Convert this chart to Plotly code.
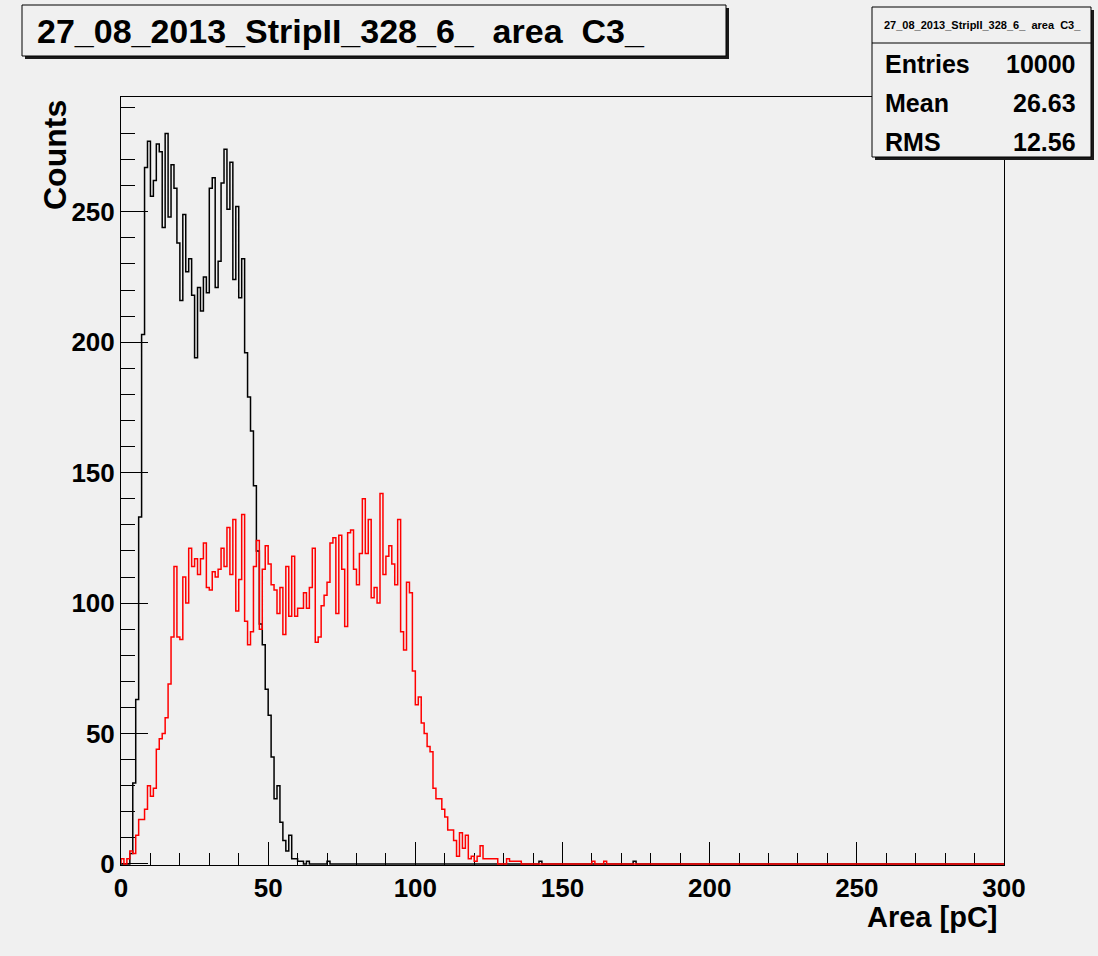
import numpy as np
import plotly.graph_objects as go

# ---------------------------------------------------------------- data
title_text = "27_08_2013_StripII_328_6_  area  C3_"
n_bins = 300
x_min, x_max = 0.0, 300.0

# black histogram, bins 0..70 (1 pC per bin) + isolated entries further out
black_counts_head = [
    0, 0, 0, 4, 31, 63, 133, 203, 267, 277,
    256, 262, 276, 273, 244, 280, 248, 268, 259, 238,
    216, 249, 227, 232, 218, 194, 221, 212, 225, 219,
    259, 263, 221, 231, 261, 274, 251, 269, 224, 252,
    217, 232, 196, 179, 166, 145, 120, 92, 84, 67,
    57, 41, 25, 30, 16, 9, 5, 11, 2, 2,
    1, 1, 0, 1, 0, 0, 0, 0, 0, 0,
    1,
]
black_sparse = {142: 1, 174: 1}

# red histogram, bins 0..135 + isolated entries further out
red_counts_head = [
    2, 0, 2, 5, 4, 11, 17, 17, 21, 30,
    26, 29, 44, 48, 50, 56, 69, 87, 114, 87,
    86, 110, 100, 121, 114, 117, 111, 117, 123, 106,
    105, 112, 110, 113, 121, 114, 129, 111, 132, 97,
    109, 134, 93, 84, 89, 114, 124, 90, 113, 122,
    115, 107, 105, 96, 106, 88, 114, 95, 118, 95,
    98, 98, 104, 98, 106, 121, 85, 87, 99, 103,
    108, 123, 125, 96, 126, 113, 91, 127, 128, 113,
    107, 119, 140, 119, 132, 102, 106, 100, 142, 111,
    118, 122, 115, 107, 132, 89, 82, 108, 104, 74,
    61, 64, 54, 50, 45, 43, 29, 25, 25, 21,
    18, 13, 13, 9, 3, 12, 6, 11, 2, 3,
    1, 3, 7, 2, 2, 2, 2, 2, 0, 0,
    0, 2, 1, 1, 1, 1,
]
red_sparse = {160: 1, 164: 1}

stats_labels = ["Entries", "Mean", "RMS"]
stats_values = ["10000", "26.63", "12.56"]

x_tick_vals = [0, 50, 100, 150, 200, 250, 300]
y_tick_vals = [0, 50, 100, 150, 200, 250]
y_max = 294.0


def full_counts(head, sparse):
    c = np.zeros(n_bins)
    c[:len(head)] = head
    for k, v in sparse.items():
        c[k] = v
    return c


def step_xy(counts):
    edges = np.linspace(x_min, x_max, n_bins + 1)
    xs = np.concatenate([[x_min], edges])
    ys = np.concatenate([[0.0], counts, [0.0]])
    return xs, ys


black = full_counts(black_counts_head, black_sparse)
red = full_counts(red_counts_head, red_sparse)

# ---------------------------------------------------------------- layout geometry (pixels)
W, H = 1098, 956
L, R, T, B = 121, 1004, 97, 865
PW, PH = R - L, B - T


def px(x):
    return (x - L) / PW


def py(y):
    return (B - y) / PH


FONT = "Liberation Sans, Arial, Helvetica, sans-serif"
BG = "#f0f0f0"

fig = go.Figure()
for counts, colour in ((black, "black"), (red, "#ff0000")):
    xs, ys = step_xy(counts)
    fig.add_trace(go.Scatter(
        x=xs, y=ys, mode="lines", line=dict(color=colour, width=1.5, shape="hv"),
        hoverinfo="skip", showlegend=False,
    ))

axis_common = dict(
    showgrid=False, zeroline=False, showline=True, linecolor="black", linewidth=1,
    mirror=True, ticks="inside", tickcolor="black", tickwidth=1,
    tickfont=dict(family=FONT, size=26, color="black", weight="bold"),
    layer="below traces",
)

fig.update_xaxes(
    range=[x_min, x_max], tickvals=x_tick_vals, ticklen=23,
    minor=dict(dtick=10, ticklen=12, ticks="inside", tickcolor="black", tickwidth=1),
    **axis_common,
)
fig.update_yaxes(
    range=[-0.4, y_max], tickvals=y_tick_vals, ticklen=27,
    minor=dict(dtick=10, ticklen=14, ticks="inside", tickcolor="black", tickwidth=1),
    **axis_common,
)

shapes = []
annotations = []


def box_with_shadow(x0, y0, x1, y1, off=3):
    shapes.append(dict(type="rect", xref="paper", yref="paper",
                       x0=px(x0 + off), x1=px(x1 + off), y0=py(y1 + off), y1=py(y0 + off),
                       line=dict(width=0), fillcolor="#1a1a1a", layer="above"))
    shapes.append(dict(type="rect", xref="paper", yref="paper",
                       x0=px(x0), x1=px(x1), y0=py(y1), y1=py(y0),
                       line=dict(color="black", width=1), fillcolor=BG, layer="above"))


def text(x, y, s, size, xanchor="left", angle=0, yanchor="middle"):
    annotations.append(dict(
        xref="paper", yref="paper", x=px(x), y=py(y), text=s, showarrow=False,
        xanchor=xanchor, yanchor=yanchor, textangle=angle,
        font=dict(family=FONT, size=size, color="black", weight="bold"),
    ))


# title box
box_with_shadow(22, 5, 726, 56)
text(35, 31, title_text, 34)

# statistics box
box_with_shadow(872, 7, 1091, 157)
shapes.append(dict(type="line", xref="paper", yref="paper",
                   x0=px(872), x1=px(1091), y0=py(43), y1=py(43),
                   line=dict(color="black", width=1), layer="above"))
text(982, 25, title_text, 11, xanchor="center")
for i, (lab, val) in enumerate(zip(stats_labels, stats_values)):
    yc = 64 + i * 39
    text(883, yc, lab, 25)
    text(1078, yc, val, 25, xanchor="right")

# axis titles
text(55, 98, "Counts", 32, xanchor="center", angle=-90, yanchor="top")
text(1000, 917, "Area [pC]", 29, xanchor="right")

fig.update_layout(
    width=W, height=H,
    margin=dict(l=L, r=W - R, t=T, b=H - B),
    paper_bgcolor=BG, plot_bgcolor=BG,
    shapes=shapes, annotations=annotations,
    showlegend=False,
)

fig.write_html("out.html")
